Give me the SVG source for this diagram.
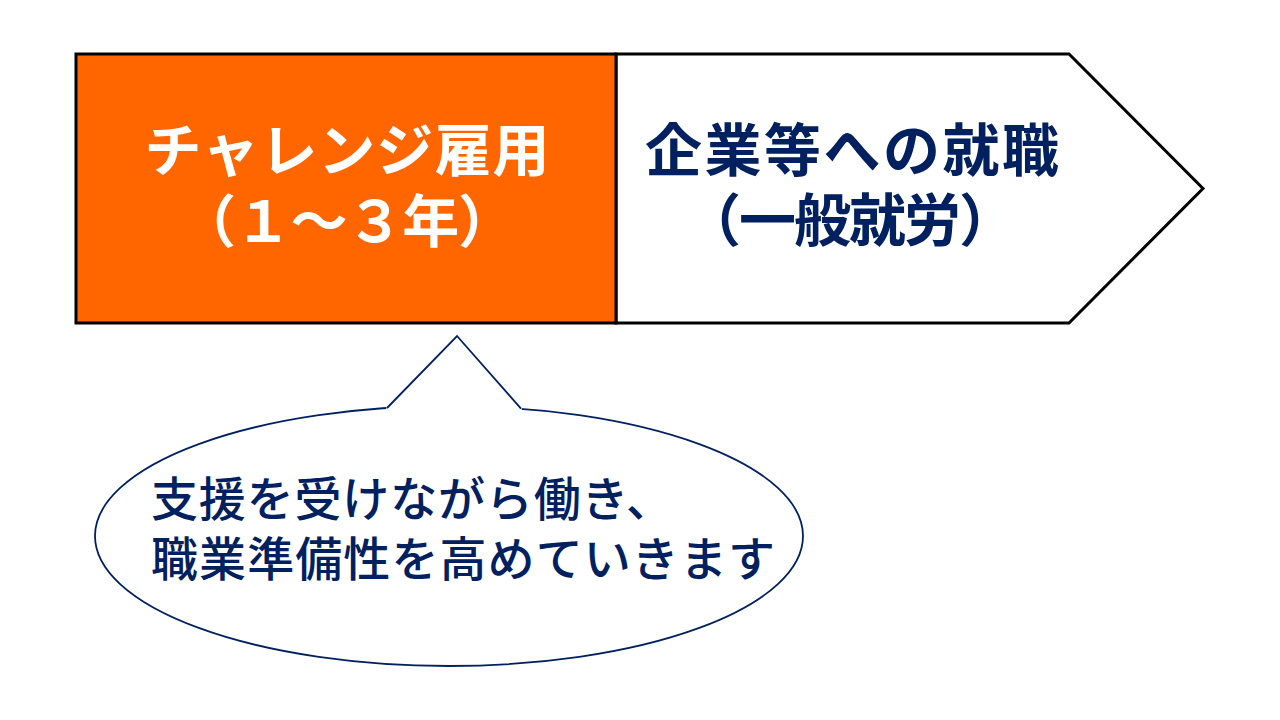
<svg xmlns="http://www.w3.org/2000/svg" width="1280" height="720" viewBox="0 0 1280 720">
<style>
.jp{font-family:"Noto Sans CJK JP","Noto Sans CJK SC",sans-serif;text-spacing-trim:space-all;}
.head{font-size:57px;font-weight:700;text-anchor:middle;}
.call{font-size:47px;font-weight:500;fill:#002060;}
.bubble{fill:#ffffff;stroke:#002060;stroke-width:1.8;}
</style>
<rect width="1280" height="720" fill="#ffffff"/>
<g id="next">
<path d="M616,54 L1069,54 L1203,188.5 L1069,323 L616,323 Z" fill="#ffffff" stroke="#000000" stroke-width="3"/>
<text class="jp head" x="852" y="171" fill="#002060" textLength="414" lengthAdjust="spacing">企業等への就職</text>
<text class="jp head" x="850" y="241" fill="#002060" textLength="332" lengthAdjust="spacing">（一般就労）</text>
</g>
<g id="challenge">
<rect x="76" y="54" width="540" height="269" fill="#ff6600" stroke="#000000" stroke-width="3"/>
<text class="jp head" x="347" y="171" fill="#ffffff" textLength="405" lengthAdjust="spacing">チャレンジ雇用</text>
<text class="jp head" x="347" y="242" fill="#ffffff" textLength="336" lengthAdjust="spacing">（１～３年）</text>
</g>
<g id="callout">
<ellipse class="bubble" cx="449" cy="536" rx="354" ry="130"/>
<path d="M386.5,406 L457,336 L521.5,406.5 L522,413 L386,413 Z" fill="#ffffff" stroke="none"/>
<polyline points="387,408 457,336 521,408.7" fill="none" stroke="#002060" stroke-width="1.8" stroke-linejoin="miter"/>
<text class="jp call" x="151" y="516" textLength="522" lengthAdjust="spacing">支援を受けながら働き、</text>
<text class="jp call" x="151" y="576" textLength="624" lengthAdjust="spacing">職業準備性を高めていきます</text>
</g>
</svg>
